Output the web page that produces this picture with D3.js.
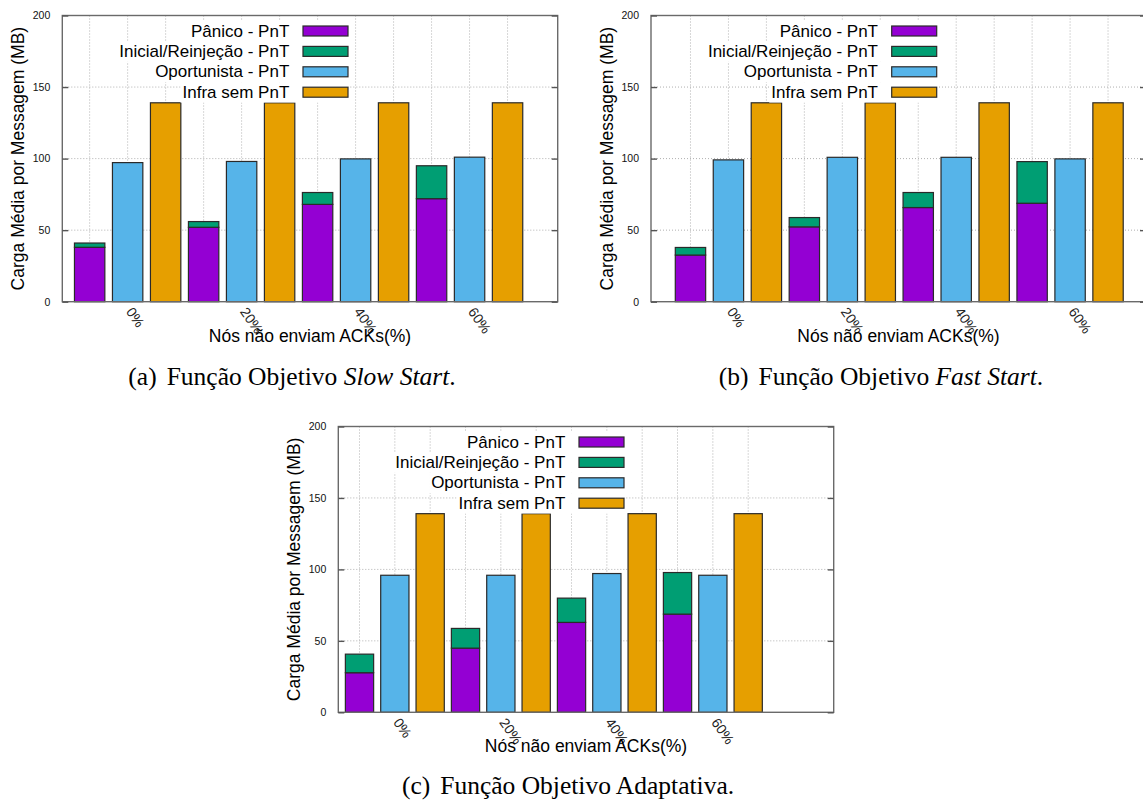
<!DOCTYPE html>
<html>
<head>
<meta charset="utf-8">
<script src="https://cdn.jsdelivr.net/npm/d3@7/dist/d3.min.js"></script>
<style>
  body { margin: 0; background: #fff; }
</style>
</head>
<body>
<div id="figure"></div>
<script>
// categories / series
var categories = ["0%", "20%", "40%", "60%"];
var seriesNames = ["Pânico - PnT", "Inicial/Reinjeção - PnT", "Oportunista - PnT", "Infra sem PnT"];
var seriesColors = ["#9400d3", "#009e73", "#56b4e9", "#e69f00"];
var yTicks = [0, 50, 100, 150, 200];

// (a) Slow Start
var slowPanico = [38, 52, 68, 72];
var slowInicial = [3, 4, 8.3, 23];
var slowOportunista = [97.2, 98, 99.8, 101];
var slowInfra = [139, 139, 139, 139];

// (b) Fast Start
var fastPanico = [32.6, 52.3, 65.8, 68.8];
var fastInicial = [5.3, 6.5, 10.5, 29.1];
var fastOportunista = [99.1, 100.9, 100.9, 99.8];
var fastInfra = [139, 139, 139, 139];

// (c) Adaptativa
var adaptPanico = [27.7, 44.9, 62.9, 68.7];
var adaptInicial = [13, 13.8, 17, 29.1];
var adaptOportunista = [95.9, 95.9, 97.1, 95.9];
var adaptInfra = [139, 139, 139, 139];

var fontSans = "'Liberation Sans', Arial, sans-serif";
var fontSerif = "'Liberation Serif', 'Times New Roman', serif";

var svg = d3.select("#figure").append("svg")
  .attr("width", 1143).attr("height", 800)
  .attr("viewBox", "0 0 1143 800");

var panels = [
  { series: [slowPanico, slowInicial, slowOportunista, slowInfra],
    left: 62.3, right: 557.7, top: 15.5, bottom: 301.7, xMin: -0.72, xMax: 12.32,
    label: "(a)", captionPlain: "Função Objetivo ", captionItalic: "Slow Start", captionX: 292, captionY: 385 },
  { series: [fastPanico, fastInicial, fastOportunista, fastInfra],
    left: 651, right: 1146, top: 15.5, bottom: 301.7, xMin: -1.04, xMax: 12.0,
    label: "(b)", captionPlain: "Função Objetivo ", captionItalic: "Fast Start", captionX: 881, captionY: 385 },
  { series: [adaptPanico, adaptInicial, adaptOportunista, adaptInfra],
    left: 338.3, right: 833.7, top: 426.5, bottom: 712.3, xMin: -0.6, xMax: 13.42,
    label: "(c)", captionPlain: "Função Objetivo Adaptativa", captionItalic: "", captionX: 568, captionY: 794 }
];

panels.forEach(function (p) { drawPanel(p); });

function drawPanel(p) {
  var g = svg.append("g");
  var x = d3.scaleLinear().domain([p.xMin, p.xMax]).range([p.left, p.right]);
  var y = d3.scaleLinear().domain([0, 200]).range([p.bottom, p.top]);
  var barW = (x(1) - x(0)) * 0.8;

  // grid (behind everything)
  g.append("g").selectAll("line").data(yTicks.slice(1, -1)).enter().append("line")
    .attr("x1", p.left).attr("x2", p.right)
    .attr("y1", function (d) { return y(d); }).attr("y2", function (d) { return y(d); })
    .attr("stroke", "#b0b0b0").attr("stroke-width", 1).attr("stroke-dasharray", "1,2");
  g.append("g").selectAll("line").data(d3.range(categories.length * 3)).enter().append("line")
    .attr("x1", function (d) { return x(d); }).attr("x2", function (d) { return x(d); })
    .attr("y1", p.top).attr("y2", p.bottom)
    .attr("stroke", "#b0b0b0").attr("stroke-width", 1).attr("stroke-dasharray", "1,2");

  // bar table built from the arrays
  var bars = [];
  categories.forEach(function (c, i) {
    var pan = p.series[0][i], ini = p.series[1][i];
    bars.push({ pos: i * 3, y0: 0, y1: pan, color: seriesColors[0] });
    bars.push({ pos: i * 3, y0: pan, y1: pan + ini, color: seriesColors[1] });
    bars.push({ pos: i * 3 + 1, y0: 0, y1: p.series[2][i], color: seriesColors[2] });
    bars.push({ pos: i * 3 + 2, y0: 0, y1: p.series[3][i], color: seriesColors[3] });
  });

  g.append("g").selectAll("rect").data(bars).enter().append("rect")
    .attr("x", function (d) { return x(d.pos) - barW / 2; })
    .attr("width", barW)
    .attr("y", function (d) { return y(d.y1); })
    .attr("height", function (d) { return y(d.y0) - y(d.y1); })
    .attr("fill", function (d) { return d.color; })
    .attr("stroke", "#2a2a2a").attr("stroke-width", 1.2);

  // frame
  g.append("rect")
    .attr("x", p.left).attr("y", p.top)
    .attr("width", p.right - p.left).attr("height", p.bottom - p.top)
    .attr("fill", "none").attr("stroke", "#6a6a6a").attr("stroke-width", 1.4);

  // y ticks, left and mirrored right
  var yAxis = d3.axisLeft(y).tickValues(yTicks).tickSize(-6).tickPadding(12);
  var ya = g.append("g").attr("transform", "translate(" + p.left + ",0)").call(yAxis);
  ya.select(".domain").remove();
  ya.selectAll(".tick line").attr("stroke", "#555").attr("stroke-width", 1.4);
  ya.selectAll(".tick text")
    .attr("font-family", fontSans).attr("font-size", "10.5px").attr("fill", "#111");

  var yAxisR = d3.axisRight(y).tickValues(yTicks).tickSize(-6).tickFormat("");
  var yr = g.append("g").attr("transform", "translate(" + p.right + ",0)").call(yAxisR);
  yr.select(".domain").remove();
  yr.selectAll(".tick line").attr("stroke", "#555").attr("stroke-width", 1.4);

  // x tick labels, rotated
  g.append("g").selectAll("text").data(categories).enter().append("text")
    .attr("transform", function (d, i) {
      return "translate(" + (x(i * 3 + 1) + 1) + "," + (p.bottom + 8) + ") rotate(55)";
    })
    .attr("dominant-baseline", "middle")
    .attr("font-family", fontSans).attr("font-size", "14px").attr("fill", "#222")
    .text(function (d) { return d; });

  // axis titles
  g.append("text")
    .attr("transform", "translate(" + (p.left - 38) + "," + ((p.top + p.bottom) / 2) + ") rotate(-90)")
    .attr("text-anchor", "middle")
    .attr("font-family", fontSans).attr("font-size", "17.5px").attr("fill", "#000")
    .text("Carga Média por Messagem (MB)");

  g.append("text")
    .attr("x", (p.left + p.right) / 2).attr("y", p.bottom + 40)
    .attr("text-anchor", "middle")
    .attr("font-family", fontSans).attr("font-size", "17.5px").attr("fill", "#000")
    .text("Nós não enviam ACKs(%)");

  // legend (opaque rows)
  var key = g.append("g");
  seriesNames.forEach(function (name, k) {
    var cy = p.top + 15.5 + k * 20.4;
    var row = key.append("g");
    var bg = row.append("rect").attr("fill", "#fff");
    var t = row.append("text")
      .attr("x", p.left + 227).attr("y", cy)
      .attr("text-anchor", "end").attr("dominant-baseline", "central")
      .attr("font-family", fontSans).attr("font-size", "17px").attr("fill", "#000")
      .text(name);
    var bb = t.node().getBBox();
    bg.attr("x", bb.x - 2).attr("y", cy - 10)
      .attr("width", (p.left + 288) - bb.x).attr("height", 20.4);
    row.append("rect")
      .attr("x", p.left + 240.7).attr("y", cy - 5)
      .attr("width", 45).attr("height", 10)
      .attr("fill", seriesColors[k])
      .attr("stroke", "#2a2a2a").attr("stroke-width", 1.2);
  });

  // caption
  var cap = svg.append("text")
    .attr("x", p.captionX).attr("y", p.captionY)
    .attr("text-anchor", "middle")
    .attr("font-family", fontSerif).attr("font-size", "25.5px").attr("fill", "#000");
  cap.append("tspan").text(p.label);
  cap.append("tspan").attr("dx", 10).text(p.captionPlain);
  if (p.captionItalic) {
    cap.append("tspan").attr("font-style", "italic").text(p.captionItalic);
  }
  cap.append("tspan").text(".");
}
</script>
</body>
</html>
